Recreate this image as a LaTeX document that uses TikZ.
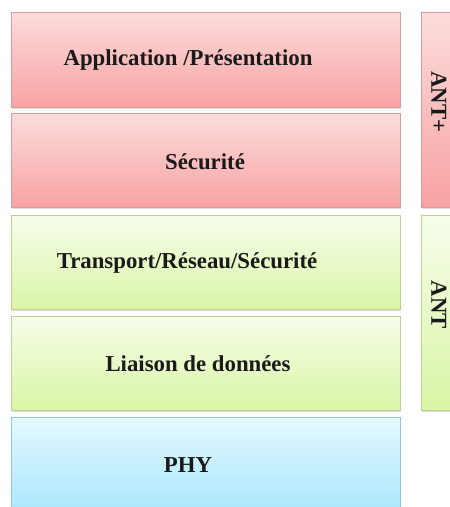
\documentclass[tikz,border=0pt]{standalone}
\usepackage{fontspec}
\setmainfont{Liberation Serif}
\usetikzlibrary{shadows}
\definecolor{pinktop}{HTML}{FCDCDC}
\definecolor{pinkbot}{HTML}{F8A2A2}
\definecolor{pinkline}{HTML}{D89A9A}
\definecolor{greentop}{HTML}{F6FDEA}
\definecolor{greenbot}{HTML}{DAF5A6}
\definecolor{greenline}{HTML}{B9D48E}
\definecolor{bluetop}{HTML}{E4F8FE}
\definecolor{bluebot}{HTML}{A6E6FC}
\definecolor{blueline}{HTML}{8CC8DC}
\definecolor{txt}{HTML}{1A1A1A}
\begin{document}
\begin{tikzpicture}[x=1pt,y=-1pt,
  layer/.style={rectangle, anchor=north west, line width=0.8pt, inner sep=0pt,
    drop shadow={shadow xshift=1pt, shadow yshift=-1.2pt, opacity=0.25}},
  pinkbox/.style={layer, draw=pinkline, top color=pinktop, bottom color=pinkbot},
  greenbox/.style={layer, draw=greenline, top color=greentop, bottom color=greenbot},
  bluebox/.style={layer, draw=blueline, top color=bluetop, bottom color=bluebot},
  lbl/.style={font=\fontsize{22.8}{26}\selectfont\bfseries, text=txt, inner sep=0pt}]
\useasboundingbox (0,0) rectangle (450,507);
\clip (0,0) rectangle (450,507);
\fill[white] (0,0) rectangle (450,507);
\node[pinkbox, minimum width=389pt, minimum height=95pt] (app) at (11,12) {};
\node[pinkbox, minimum width=389pt, minimum height=94pt] (sec) at (11,113) {};
\node[greenbox, minimum width=389pt, minimum height=94pt] (trans) at (11,215) {};
\node[greenbox, minimum width=389pt, minimum height=94pt] (liai) at (11,316) {};
\node[bluebox, minimum width=389pt, minimum height=100pt] (phy) at (11,417) {};
\node[pinkbox, minimum width=40pt, minimum height=195pt] (antp) at (421,12) {};
\node[greenbox, minimum width=40pt, minimum height=195pt] (ant) at (421,215) {};
\node[lbl] (appt) at (188,60) {Application /Présentation};
\node[lbl] (sect) at (205,162) {Sécurité};
\node[lbl] (transt) at (187,263) {Transport/Réseau/Sécurité};
\node[lbl] (liait) at (198,364) {Liaison de données};
\node[lbl] (phyt) at (188,465) {PHY};
\node[lbl, rotate=-90] (antpt) at (439,102) {ANT+};
\node[lbl, rotate=-90] (antt) at (439,305) {ANT};
\end{tikzpicture}
\end{document}
